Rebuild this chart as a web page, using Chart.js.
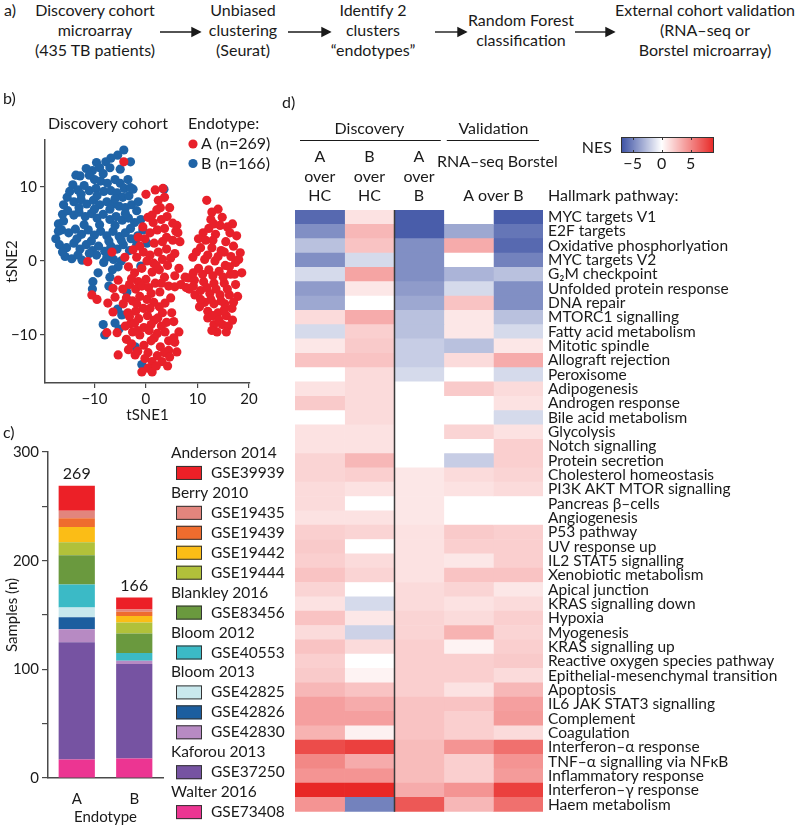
<!DOCTYPE html>
<html>
<head>
<meta charset="utf-8">
<script src="https://cdn.jsdelivr.net/npm/chart.js@4.4.1/dist/chart.umd.min.js"></script>
<style>
  body { margin: 0; width: 798px; height: 826px; position: relative; background: #fff; overflow: hidden;
         font-family: Lato, "Noto Sans", sans-serif; color: #1a1a1a; }
  .flow { position: absolute; top: 0; text-align: center; font-size: 16px; line-height: 20px; white-space: nowrap; }
  .arrow { position: absolute; }
  canvas { position: absolute; }
</style>
</head>
<body>
<div class="flow" style="left:0;width:20px">a)</div>
<div class="flow" style="left:20px;width:150px">Discovery cohort<br>microarray<br>(435 TB patients)</div>
<div class="flow" style="left:193px;width:100px">Unbiased<br>clustering<br>(Seurat)</div>
<div class="flow" style="left:318px;width:110px">Identify 2<br>clusters<br>“endotypes”</div>
<div class="flow" style="left:466px;width:110px;top:10px">Random Forest<br>classification</div>
<div class="flow" style="left:610px;width:190px">External cohort validation<br>(RNA–seq or<br>Borstel microarray)</div>
<svg class="arrow" style="left:0;top:0" width="798" height="70">
  <g stroke="#1a1a1a" stroke-width="1.4" fill="#1a1a1a">
    <line x1="160" y1="32" x2="193" y2="32"/><polygon points="200,32 192,28 192,36"/>
    <line x1="288" y1="32" x2="323" y2="32"/><polygon points="330,32 322,28 322,36"/>
    <line x1="435" y1="32" x2="459" y2="32"/><polygon points="466,32 458,28 458,36"/>
    <line x1="575" y1="32" x2="607" y2="32"/><polygon points="614,32 606,28 606,36"/>
  </g>
</svg>

<canvas id="heat" width="518" height="736" style="left:280px;top:90px"></canvas>
<canvas id="tsne" width="280" height="335" style="left:0;top:90px"></canvas>
<canvas id="bars" width="300" height="401" style="left:0;top:425px"></canvas>

<script>
// ---- b) tSNE embedding ----
const endotypeA = [
  [-4.3,13.4], [-6.6,1.2], [-11.3,-0.1], [-4.1,0.5],
  [-10.5,-4.6], [-9.5,-5.2], [-5.4,-2.6], [-6.4,-3.7], [-6,-4.9], [-7.4,-5.7], [-6.4,-6.9],
  [-5.4,-12.7], [-2.1,-12.7], [-7.6,-9.7], [-5.6,-9.7], [-4.4,-5.8], [-3.5,-7], [-3,-8.5],
  [3.3,9.8], [3.6,8.6], [2.4,8.2], [2.8,7.2], [0,9], [1.8,9.6], [4.6,7.2],
  [2.1,6.9], [0.4,5.9], [1.4,5.2], [5.2,5.1], [4.1,6], [3,5.6], [6,4.8], [3.6,4.4], [1.2,6.2], [5.8,4],
  [-0.6,4.6], [0.8,3.8], [2.2,4.2], [4,3.2], [6.2,3.8], [5.2,2.8], [3.2,2.6], [1.6,2.4], [-1.5,3.2], [6.6,2.6], [-0.2,3],
  [-2.5,1.5], [-1.8,0.5], [-0.5,1.2], [0.8,0.8], [2.4,1.2], [4,1.6], [5.6,1], [3.2,0.2], [1.5,-0.3], [4.8,0.4], [0.2,0], [-1.2,2],
  [-3.4,-0.8], [-2.2,-1.6], [-0.8,-1], [1.2,-1.5], [2.6,-1.2], [4.2,-0.6], [5.6,-2], [3.6,-2.2], [0,-2.5], [-1.5,-2.8], [2,-0.6], [6.4,-1],
  [-3.2,-3.2], [-2,-3.8], [-0.8,-3.4], [0.5,-3.6], [1.8,-3], [2.7,-4.2], [4.4,-3.4], [5.6,-3.5], [-4.5,-3.8], [-2.8,-2.4], [3,-3], [1,-4.4],
  [-3.8,-5], [-2.6,-5.4], [-1.2,-4.8], [0.2,-5.2], [1.5,-5.6], [3.7,-5.7], [2.6,-6.2], [-0.5,-6.4], [-2,-6.8], [4.8,-5], [-1.8,-5.8], [0.8,-6.4],
  [-3.2,-7.5], [-1.4,-7.8], [0.3,-7.4], [1.6,-8], [2.3,-7.7], [4,-8.3], [-0.4,-9], [3.2,-7], [5,-7], [-2.2,-8.4], [1,-8.6], [3,-8.8],
  [-2.6,-9.6], [-1.2,-10], [0.6,-9.4], [2.2,-9.8], [3.7,-9.6], [-3.8,-10.6], [5.4,-10.4], [-1.6,-9.4], [1.6,-10.4], [4.4,-10.8],
  [-2.8,-11.2], [-0.4,-11.4], [1,-10.8], [2.8,-11.6], [4.4,-12.1], [5.6,-11], [6,-12.3], [-1.6,-12.2], [-3.4,-12], [0.4,-12.4], [3.6,-12.4],
  [-0.2,-13.2], [1.2,-13.6], [3.1,-13.6], [0.4,-14.5], [1.2,-15], [2.2,-12.8], [4.6,-13], [2,-14.2], [-0.8,-15], [5.4,-8.2], [6.4,-9.6],
  [4.2,-14.2], [-4,-8.8],
  [11.8,8.2], [14.8,5.9], [14.4,4.8], [16.3,3.8], [15.5,2.6], [13.5,3.6], [12.2,4.4], [11.1,3.8], [17,2],
  [18.3,1.1], [16.5,0.6], [14.6,1.4], [12.8,1.8], [10.6,1.8], [9.1,0.5], [11.4,0.2], [13.4,0], [15.4,-0.6],
  [17.4,-0.2], [18.6,-1.6], [16.4,-1.8], [14.2,-1.4], [12.2,-1.2], [10.2,-1], [8.2,-2.3], [7.6,-2.2], [9.4,-2.6],
  [11.2,-2.8], [13.2,-3], [15.2,-3], [17.4,-3.2], [6.8,-3.2], [9.5,-4.6], [10.6,-4], [12.4,-4.4], [14.4,-4.6],
  [16.2,-4.6], [17.8,-4.8], [11.4,-5.6], [13.2,-5.8], [15.3,-5.8], [16.7,-6.4], [12,-6.8], [14,-7], [15.6,-7.4],
  [12,-7.7], [13.2,-8.6], [14.8,-8.6], [13.8,-9.6], [16.8,-8], [10.4,-6.2], [8.4,-3.8], [10.2,3], [12.6,5.6],
  [14,7], [16.8,5], [13,2.8], [15.2,1.2],
  [12.8,6.6], [15.8,4.6], [17.6,3.4], [13.2,5], [11.6,2.8], [9.8,1.2], [12,0.8], [14,0.6], [16.2,-0.8], [18,0.2],
  [9.2,-1.6], [11,-1.8], [13,-2], [15,-2.2], [17.2,-1.8], [7.8,-3.6], [9.2,-3.4], [11.8,-3.6], [13.6,-3.8], [15.8,-3.8],
  [17,-5.6], [10.6,-5.2], [12.6,-5.2], [14.6,-5.4], [13,-7.4], [15.2,-6.6], [14.2,-8], [12.8,-9.4], [16,-8.8], [15.6,-9.6]
];
const endotypeB = [
  [-4.3,15], [-5.5,14.3], [-6.8,13.9], [-7.8,13.4], [-3,13.4], [-9.6,13.3],
  [-11.6,12.5], [-10.4,12.2], [-9,12.6], [-8.3,11.8], [-12.8,11.5], [-10,11], [-8.8,10.8], [-7.5,10.5], [-6,11], [-5,10.5], [-4.2,9.8], [-3.5,11],
  [-14.2,10.3], [-13.2,9.6], [-12,10.2], [-11,9.5], [-9.7,9.8], [-8.2,9.4], [-6.8,9.5], [-5.6,9.2], [-4.5,8.6], [-3.3,8.8], [-2.5,9.7],
  [-15.3,8.6], [-14,8], [-12.6,8.3], [-11.5,7.7], [-10.2,8.2], [-9,7.6], [-7.6,8], [-6.3,7.7], [-5.2,7.4], [-4,7.2], [-2.8,7.6], [-1.8,6.8],
  [-16.2,6.3], [-15.2,6.8], [-14,6.2], [-13,6.6], [-11.8,6], [-10.6,6.4], [-9.5,5.8], [-8.3,6.3], [-7,5.6], [-5.8,6], [-4.6,5.5], [-3.4,5.8], [-2.2,5.2], [-1,5.6],
  [-17,5], [-16.4,4.2], [-15,3.8], [-13.7,4.3], [-12.5,3.6], [-11.2,4.2], [-10,3.5], [-8.8,4], [-7.6,3.4], [-6.4,4], [-5.2,3.3], [-4,3.8], [-2.9,3], [-1.6,3.4],
  [-17.5,3], [-16.8,2.2], [-15.4,1.8], [-14,2.4], [-12.8,1.6], [-11.6,2.2], [-10.4,1.4], [-9.2,2], [-8,1.3], [-6.8,2], [-5.6,1.6], [-4.4,2.2], [-3.2,1.4],
  [-15.7,0.6], [-14.4,0.3], [-12.4,0.1], [-9.6,0.8], [-7.6,0.5], [-6.3,0.2], [-4.8,0],
  [-13.6,11.6], [-11,11.6], [-7,12.6], [-5,12.4], [-14.8,9.4], [-12.6,9], [-9.5,8.8], [-6,8.4], [-3,9.9], [-16,7.6],
  [-13,7.2], [-10,7], [-7,7], [-4,6.4], [-1.5,8], [-16,5.4], [-12,4.9], [-9,4.9], [-6,4.8], [-3,4.4], [-0.6,4.2],
  [-17,4], [-13.4,3], [-10.6,2.7], [-7.2,2.7], [-4.8,2.8], [-1.8,2.2], [-16.2,1.2], [-13.2,0.8], [-11,1], [-8.2,-0.2], [-5.4,-0.8],
  [3.5,9.7], [0.2,2.4], [-1,-0.7],
  [-9.3,-1.6], [-10.3,-2.8], [-10.4,-3.8], [-7,-2.2], [-7.2,-3.4], [-6.5,-1.2], [-3.7,-4.2], [-4.7,-7.3],
  [-8.3,-8.6], [-6,-8.4], [-8,-10], [-5.2,-9.2], [-2.1,-11.6], [-0.8,-14], [-5.5,-6.5]
];
const tsneXTicks = [-10, 0, 10, 20];
const tsneYTicks = [-10, 0, 10];

// ---- c) samples per dataset (legend order, top of stack first) ----
const studyNames = ['Anderson 2014', 'Berry 2010', 'Blankley 2016', 'Bloom 2012', 'Bloom 2013', 'Kaforou 2013', 'Walter 2016'];
const cohortIds = ['GSE39939', 'GSE19435', 'GSE19439', 'GSE19442', 'GSE19444', 'GSE83456', 'GSE40553',
                   'GSE42825', 'GSE42826', 'GSE42830', 'GSE37250', 'GSE73408'];
const cohortStudy = [0, 1, 1, 1, 1, 2, 3, 4, 4, 4, 5, 6];
const cohortColors = ['#ec2027', '#e2857d', '#ef6c2e', '#fbbd16', '#b1c13a', '#6a993e', '#3bbac6',
                      '#c8e8ed', '#1c5e9f', '#b78ac3', '#7653a2', '#ec3592'];
const samplesA = [23, 7, 8, 14, 12, 27, 21, 9, 11, 12, 108, 17];
const samplesB = [11, 2, 4, 6, 10, 18, 7, 0, 0, 3, 87, 18];
const endotypes = ['A', 'B'];

// ---- d) GSEA normalised enrichment scores ----
const pathways = ['MYC targets V1', 'E2F targets', 'Oxidative phosphorlyation', 'MYC targets V2', 'G₂M checkpoint',
  'Unfolded protein response', 'DNA repair', 'MTORC1 signalling', 'Fatty acid metabolism', 'Mitotic spindle',
  'Allograft rejection', 'Peroxisome', 'Adipogenesis', 'Androgen response', 'Bile acid metabolism', 'Glycolysis',
  'Notch signalling', 'Protein secretion', 'Cholesterol homeostasis', 'PI3K AKT MTOR signalling', 'Pancreas β–cells',
  'Angiogenesis', 'P53 pathway', 'UV response up', 'IL2 STAT5 signalling', 'Xenobiotic metabolism', 'Apical junction',
  'KRAS signalling down', 'Hypoxia', 'Myogenesis', 'KRAS signalling up', 'Reactive oxygen species pathway',
  'Epithelial-mesenchymal transition', 'Apoptosis', 'IL6 JAK STAT3 signalling', 'Complement', 'Coagulation',
  'Interferon–α response', 'TNF–α signalling via NFκB', 'Inflammatory response', 'Interferon–γ response', 'Haem metabolism'];
const nesAoverHC = [-6, -4.5, -2.5, -4.5, -1.5, -4, -3.5, 1.5, -1.5, 1, 2.5, 0, 1.2, 2.2, 0, 1.2, 1.2, 1.8, 1.8, 1.5, 1.5,
  1.2, 2, 2.2, 2, 2.5, 1.8, 1.2, 2.5, 1.5, 2.5, 2, 2.2, 3, 4, 4, 3.2, 7.5, 5, 4.5, 9, 4.5];
const nesBoverHC = [1.2, 3, 2.5, -1.5, 3.8, 1, 0, 3.5, 2, 2.2, 2.5, 1.5, 1.5, 1.5, 1.5, 1.2, 1.2, 3, 2, 1.2, 0,
  1.2, 1.8, 0, 1.5, 1.8, 0, -1.5, 1, -1.8, 1.5, 0, 0.5, 2.5, 3.5, 4, 0.6, 8, 3.5, 4.5, 9, -5];
const nesAoverB = [-6.5, -6.5, -4.5, -4.5, -4.5, -4, -3.5, -2.5, -2.5, -2, -2, -1.5, 0, 0, 0, 0, 0, 0, 1, 1, 1,
  1, 1.2, 1.2, 1.2, 1.2, 1.5, 1.5, 1.8, 1.8, 2, 2, 2, 2, 2.5, 2.5, 2.5, 2.8, 2.8, 2.8, 3.5, 7];
const nesRnaSeq = [0, -3.5, 3.5, 0, -3, -1.5, 2.5, 1, 1, -2.5, 1.5, 0, 2.2, 0, 0, 1.8, 0, -2, 1.5, 1.2, 0,
  0, 2.2, 2, 1, 2.5, 1.8, 1.2, 1.5, 3.2, 0.5, 2, 2, 1.2, 2.5, 2, 2, 4.5, 2, 2, 4.5, 3];
const nesBorstel = [-6.5, -5.5, -6, -5, -2.5, -4.5, -4.5, -2.5, -1.5, 1, 3.5, -1.5, 1.5, 1.2, -1.5, 1.2, 2, 2, 1.8, 1.5, 0,
  0, 2, 2, 2, 2.5, 1, 1.5, 2, 1.8, 2, 2.2, 1.5, 3, 4, 4.2, 1.5, 6, 4.5, 4.2, 8, 6];
const comparisons = [nesAoverHC, nesBoverHC, nesAoverB, nesRnaSeq, nesBorstel];
const nesTicks = [-5, 0, 5];
const nesMin = -7, nesMax = 9;

const ink = '#1a1a1a', axisGrey = '#4a4a4a';
const FONT = 'Lato, "Noto Sans", sans-serif';
Chart.defaults.font.family = FONT;
Chart.defaults.color = ink;
Chart.defaults.animation = false;
Chart.defaults.plugins.legend.display = false;
Chart.defaults.plugins.tooltip.enabled = false;

function nesColor(v) {
  const end = v < 0 ? [59, 80, 163] : [232, 40, 38];
  const t = Math.min(1, v < 0 ? v / nesMin : v / nesMax);
  const c = end.map(e => Math.round(255 + (e - 255) * t));
  return `rgb(${c.join(',')})`;
}
const fmt = v => String(v).replace('-', '−');

// ---------- b) scatter ----------
new Chart(document.getElementById('tsne'), {
  type: 'scatter',
  data: {
    datasets: [
      { data: endotypeA.map(p => ({ x: p[0], y: p[1] })), backgroundColor: '#e8202a', borderWidth: 0, pointRadius: 4.6 },
      { data: endotypeB.map(p => ({ x: p[0], y: p[1] })), backgroundColor: '#1f63a6', borderWidth: 0, pointRadius: 4.6 }
    ]
  },
  options: {
    responsive: false,
    layout: { padding: { top: 50, right: 30, left: 0, bottom: 0 } },
    scales: {
      x: {
        min: -19.6, max: 20.2,
        afterBuildTicks: s => { s.ticks = tsneXTicks.map(v => ({ value: v })); },
        afterFit: s => { s.height = 42; },
        grid: { drawOnChartArea: false, tickLength: 5, color: axisGrey, lineWidth: 1.2 },
        border: { color: axisGrey, width: 1.5 },
        ticks: { font: { size: 15 }, padding: 2, callback: v => fmt(v) },
        title: { display: true, text: 'tSNE1', font: { size: 15 }, padding: { top: 0, bottom: 1 } }
      },
      y: {
        min: -16.5, max: 16.35,
        afterBuildTicks: s => { s.ticks = tsneYTicks.map(v => ({ value: v })); },
        afterFit: s => { s.width = 45; },
        grid: { drawOnChartArea: false, tickLength: 5, color: axisGrey, lineWidth: 1.2 },
        border: { color: axisGrey, width: 1.5 },
        ticks: { font: { size: 15 }, padding: 3, callback: v => fmt(v) },
        title: { display: true, text: 'tSNE2', font: { size: 15 }, padding: { top: 3, bottom: 0 } }
      }
    }
  },
  plugins: [{
    id: 'tsneText',
    afterDraw(chart) {
      const ctx = chart.ctx;
      ctx.save();
      ctx.fillStyle = ink;
      ctx.font = '16px ' + FONT;
      ctx.textBaseline = 'middle';
      ctx.fillText('b)', 3, 9);
      ctx.fillText('Discovery cohort', 48, 34);
      ctx.fillText('Endotype:', 188, 34);
      const leg = [['A (n=269)', '#e8202a'], ['B (n=166)', '#1f63a6']];
      leg.forEach((l, i) => {
        const y = 54 + i * 19.5;
        ctx.fillStyle = l[1];
        ctx.beginPath(); ctx.arc(193, y, 4.6, 0, Math.PI * 2); ctx.fill();
        ctx.fillStyle = ink;
        ctx.fillText(l[0], 201, y);
      });
      ctx.restore();
    }
  }]
});

// ---------- c) stacked bars ----------
const stackOrder = cohortIds.map((_, i) => i).reverse();
new Chart(document.getElementById('bars'), {
  type: 'bar',
  data: {
    labels: endotypes,
    datasets: stackOrder.map(i => ({
      label: cohortIds[i],
      data: [samplesA[i], samplesB[i]],
      backgroundColor: cohortColors[i],
      borderWidth: 0,
      barPercentage: 0.63,
      categoryPercentage: 1
    }))
  },
  options: {
    responsive: false,
    layout: { padding: { top: 27, right: 137, left: 0, bottom: 0 } },
    scales: {
      x: {
        stacked: true,
        afterFit: s => { s.height = 48; },
        grid: { display: false },
        border: { color: axisGrey, width: 1.5 },
        ticks: { font: { size: 15 }, padding: 4 },
        title: { display: true, text: 'Endotype', font: { size: 15 }, padding: { top: 0, bottom: 0 } }
      },
      y: {
        stacked: true, min: 0, max: 300,
        afterFit: s => { s.width = 48; },
        grid: { drawOnChartArea: false, tickLength: 6, color: axisGrey, lineWidth: 1.2 },
        border: { color: axisGrey, width: 1.5 },
        ticks: { stepSize: 50, font: { size: 15 }, padding: 3, callback: v => (v % 100 === 0 ? v : '') },
        title: { display: true, text: 'Samples (n)', font: { size: 15 }, padding: { top: 3, bottom: 0 } }
      }
    }
  },
  plugins: [{
    id: 'barText',
    afterDraw(chart) {
      const ctx = chart.ctx, xs = chart.scales.x, ys = chart.scales.y;
      ctx.save();
      ctx.fillStyle = ink;
      ctx.font = '16px ' + FONT;
      ctx.textBaseline = 'middle';
      ctx.fillText('c)', 3, 8);
      // totals above bars
      ctx.textAlign = 'center';
      [samplesA, samplesB].forEach((arr, i) => {
        const total = arr.reduce((a, b) => a + b, 0);
        ctx.fillText(String(total), xs.getPixelForValue(i), ys.getPixelForValue(total) - 12);
      });
      // grouped legend
      ctx.textAlign = 'left';
      ctx.font = '15.5px ' + FONT;
      let row = 0;
      const rowY = r => 28 + r * 19.95;
      studyNames.forEach((name, s) => {
        ctx.fillStyle = ink;
        ctx.fillText(name, 171, rowY(row++));
        cohortIds.forEach((id, i) => {
          if (cohortStudy[i] !== s) return;
          const y = rowY(row++);
          ctx.fillStyle = cohortColors[i];
          ctx.fillRect(176, y - 7, 26, 14);
          ctx.strokeStyle = '#333';
          ctx.lineWidth = 1;
          ctx.strokeRect(176.5, y - 6.5, 25, 13);
          ctx.fillStyle = ink;
          ctx.fillText(id, 211, y);
        });
      });
      ctx.restore();
    }
  }]
});

// ---------- d) heatmap ----------
new Chart(document.getElementById('heat'), {
  type: 'bar',
  data: {
    labels: pathways,
    datasets: comparisons.map((vals, c) => ({
      data: vals.map(() => [c, c + 1]),
      backgroundColor: vals.map(nesColor),
      borderWidth: 0,
      borderSkipped: false,
      barPercentage: 1,
      categoryPercentage: 1,
      grouped: false
    }))
  },
  options: {
    responsive: false,
    indexAxis: 'y',
    layout: { padding: { top: 120, right: 0, left: 15, bottom: 7 } },
    scales: {
      x: { display: false, min: 0, max: 5 },
      y: {
        position: 'right',
        afterFit: s => { s.width = 255; },
        grid: { display: false, drawTicks: false },
        border: { display: false },
        ticks: { autoSkip: false, font: { size: 15.5 }, padding: 5, color: ink }
      }
    }
  },
  plugins: [{
    id: 'heatText',
    afterDatasetsDraw(chart) {
      const ctx = chart.ctx, xs = chart.scales.x, a = chart.chartArea;
      ctx.save();
      ctx.strokeStyle = '#3a3a3a';
      ctx.lineWidth = 1.5;
      const xl = Math.round(xs.getPixelForValue(2)) + 0.5;
      ctx.beginPath(); ctx.moveTo(xl, a.top); ctx.lineTo(xl, a.bottom); ctx.stroke();
      ctx.restore();
    },
    afterDraw(chart) {
      const ctx = chart.ctx, xs = chart.scales.x;
      const cx = c => xs.getPixelForValue(c + 0.5);
      ctx.save();
      ctx.fillStyle = ink;
      ctx.strokeStyle = ink;
      ctx.font = '16px ' + FONT;
      ctx.textBaseline = 'middle';
      ctx.fillText('d)', 2, 13);
      ctx.textAlign = 'center';
      ctx.fillText('Discovery', (xs.getPixelForValue(0) + xs.getPixelForValue(3)) / 2, 39);
      ctx.fillText('Validation', (xs.getPixelForValue(3) + xs.getPixelForValue(5)) / 2, 39);
      ctx.lineWidth = 1.2;
      ctx.beginPath();
      ctx.moveTo(xs.getPixelForValue(0) + 5, 50.5); ctx.lineTo(xs.getPixelForValue(3) - 3, 50.5);
      ctx.moveTo(xs.getPixelForValue(3) + 3, 50.5); ctx.lineTo(xs.getPixelForValue(5) - 4, 50.5);
      ctx.stroke();
      [['A', 'over', 'HC'], ['B', 'over', 'HC'], ['A', 'over', 'B']].forEach((lines, c) => {
        lines.forEach((t, k) => ctx.fillText(t, cx(c), 67 + k * 19.5));
      });
      ctx.fillText('RNA–seq Borstel', xs.getPixelForValue(4) + 4, 72);
      ctx.fillText('A over B', xs.getPixelForValue(4), 106);
      ctx.textAlign = 'left';
      ctx.fillText('Hallmark pathway:', 268, 106);
      // NES colour bar
      ctx.textAlign = 'right';
      ctx.fillText('NES', 332, 58);
      const bx0 = 341, bx1 = 434, by0 = 47, by1 = 63;
      const px = v => bx0 + (v - nesMin) / (nesMax - nesMin) * (bx1 - bx0);
      for (let x = bx0; x < bx1; x++) {
        const v = nesMin + (x + 0.5 - bx0) / (bx1 - bx0) * (nesMax - nesMin);
        ctx.fillStyle = nesColor(v);
        ctx.fillRect(x, by0, 1, by1 - by0);
      }
      ctx.strokeStyle = '#333';
      ctx.lineWidth = 1;
      ctx.strokeRect(bx0 + 0.5, by0 + 0.5, bx1 - bx0 - 1, by1 - by0 - 1);
      ctx.textAlign = 'center';
      ctx.fillStyle = ink;
      nesTicks.forEach(t => {
        const x = Math.round(px(t)) + 0.5;
        ctx.beginPath();
        ctx.moveTo(x, by0); ctx.lineTo(x, by0 + 3);
        ctx.moveTo(x, by1); ctx.lineTo(x, by1 - 3);
        ctx.stroke();
        ctx.fillText(fmt(t), px(t), 74);
      });
      ctx.restore();
    }
  }]
});
</script>
</body>
</html>
